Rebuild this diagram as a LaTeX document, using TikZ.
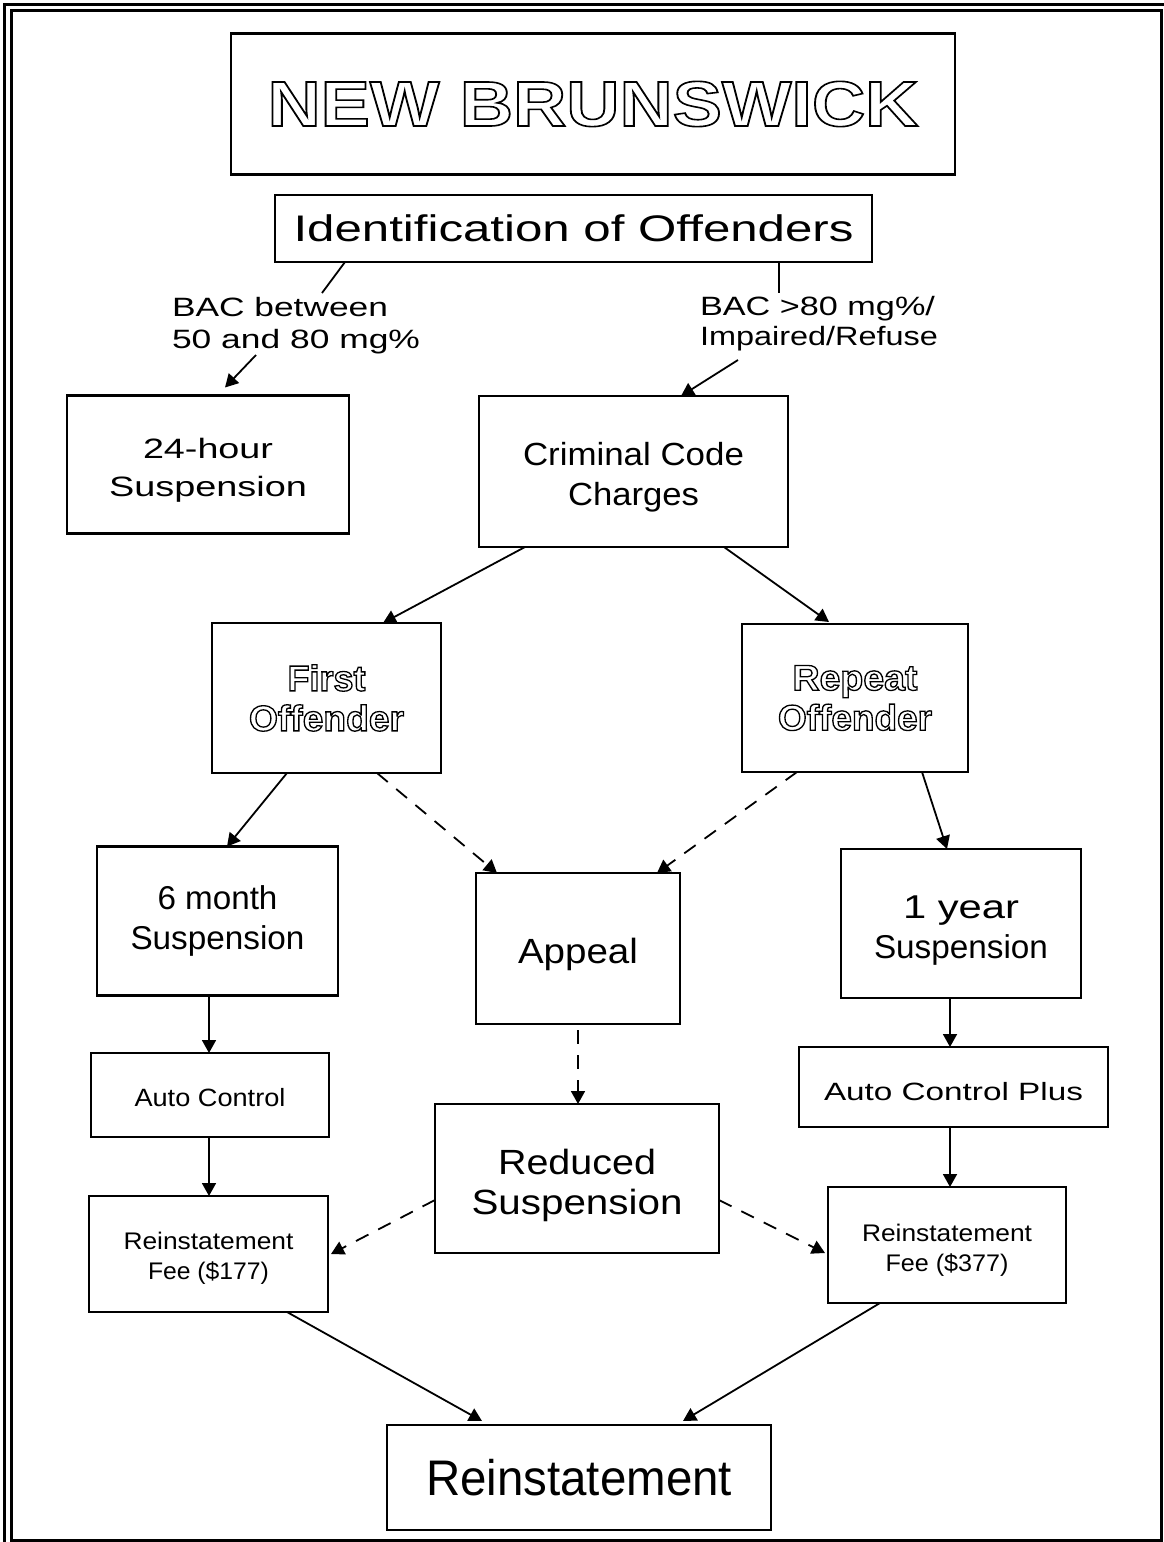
\documentclass[tikz,border=0pt]{standalone}
\usepackage{fontspec}
\setmainfont{Liberation Sans}
\usepackage{graphicx}
\usetikzlibrary{arrows.meta}
% set one line of text to a given width (in pt), keeping its height
\newsavebox\wlinebox
\newcommand\wline[2]{\sbox\wlinebox{#2}%
  \pgfmathsetmacro\wlineratio{#1/\wd\wlinebox}%
  \scalebox{\wlineratio}[1]{\usebox\wlinebox}}
% hollow lettering: glyph outlines stroked, not filled
\newcommand\hollow[2]{\special{pdf:literal direct 1 Tr #1 w}#2\special{pdf:literal direct 0 Tr}}
\newcommand\fsz[2]{\fontsize{#1}{#2}\selectfont}

\begin{document}
\begin{tikzpicture}[x=1pt,y=-1pt,
  box/.style={draw, line width=2.2pt, inner sep=0pt, outer sep=0pt, align=center},
  % place the last baseline #1 pt below the box centre
  base/.style={text depth=0pt, text height=2*#1 pt},
  lbl/.style={inner sep=0pt, outer sep=0pt, align=left},
  link/.style={line width=1.8pt, -{Triangle[length=13pt,width=14pt]}},
  plain/.style={line width=1.8pt},
  dlink/.style={link, dash pattern=on 14pt off 11pt},
]
\useasboundingbox (0,0) rectangle (1163,1542);

% double frame
\draw[line width=3pt] (4,1570) -- (4,4) -- (1190,4);
\draw[line width=3pt] (11,10) rectangle (1161,1540);

% boxes
\node[box, line width=2.6pt, minimum width=724pt, minimum height=141pt,
      font=\fsz{64}{70}\bfseries] (title) at (593,104)
  {\wline{651}{\hollow{1.6}{NEW BRUNSWICK}}};
\node[box, minimum width=597pt, minimum height=67pt, font=\fsz{37}{40}] (ident) at (573.5,228.5)
  {\wline{560}{Identification of Offenders}};

\node[lbl, font=\fsz{26.5}{32}] (lab1) at (296,326)
  {\wline{216}{BAC between}\\\wline{248}{50 and 80 mg\%}};
\node[lbl, font=\fsz{26.5}{30}] (lab2) at (819,324)
  {\wline{235}{BAC >80 mg\%/}\\\wline{238}{Impaired/Refuse}};

\node[box, base=31.5, minimum width=282pt, minimum height=138pt, font=\fsz{28}{38}] (h24) at (208,464.5)
  {\wline{130}{24-hour}\\\wline{198}{Suspension}};
\node[box, base=34, minimum width=309pt, minimum height=151pt, font=\fsz{32}{40}] (ccc) at (633.5,471.5)
  {\wline{221}{Criminal Code}\\\wline{131}{Charges}};

\node[box, minimum width=229pt, minimum height=150pt, font=\fsz{36}{40}\bfseries] (first) at (326.5,698)
  {\wline{78}{\hollow{1.3}{First}}\\\wline{155}{\hollow{1.3}{Offender}}};
\node[box, minimum width=226pt, minimum height=148pt, font=\fsz{36}{40}\bfseries] (repeat) at (855,698)
  {\wline{125}{\hollow{1.3}{Repeat}}\\\wline{154}{\hollow{1.3}{Offender}}};

\node[box, minimum width=241pt, minimum height=149pt, font=\fsz{33}{40}] (six) at (217.5,921)
  {\wline{120}{6 month}\\\wline{174}{Suspension}};
\node[box, base=14.5, minimum width=204pt, minimum height=151pt, font=\fsz{35}{40}] (appeal) at (578,948.5)
  {\wline{120}{Appeal}};
\node[box, base=34.5, minimum width=240pt, minimum height=149pt, font=\fsz{33}{40}] (year) at (961,923.5)
  {\wline{116}{1 year}\\\wline{174}{Suspension}};

\node[box, base=11, minimum width=238pt, minimum height=84pt, font=\fsz{25}{30}] (auto) at (210,1095)
  {\wline{151}{Auto Control}};
\node[box, base=13, minimum width=309pt, minimum height=80pt, font=\fsz{25}{30}] (plus) at (953.5,1087)
  {\wline{259}{Auto Control Plus}};
\node[box, base=35.5, minimum width=284pt, minimum height=149pt, font=\fsz{35}{40}] (reduced) at (577,1178.5)
  {\wline{158}{Reduced}\\\wline{211}{Suspension}};

\node[box, base=25, minimum width=239pt, minimum height=116pt, font=\fsz{24}{30}] (fee1) at (208.5,1254)
  {\wline{170}{Reinstatement}\\\wline{121}{Fee (\$177)}};
\node[box, base=26, minimum width=238pt, minimum height=116pt, font=\fsz{24}{30}] (fee2) at (947,1245)
  {\wline{170}{Reinstatement}\\\wline{123}{Fee (\$377)}};

\node[box, minimum width=384pt, minimum height=105pt, font=\fsz{50}{56}] (rein) at (579,1477.5)
  {\wline{306}{Reinstatement}};

% connectors
\draw[plain] ([xshift=-228.5pt]ident.south) -- ([shift={(26,-33)}]lab1.center);
\draw[link]  ([shift={(-40,29)}]lab1.center) -- ([xshift=17pt,yshift=8pt]h24.north);
\draw[plain] ([xshift=205.5pt]ident.south) -- ([shift={(-40,-31)}]lab2.center);
\draw[link]  ([shift={(-81,36)}]lab2.center) -- ([xshift=47.5pt]ccc.north);

\draw[link]  ([xshift=-108.5pt]ccc.south) -- ([xshift=56.5pt]first.north);
\draw[link]  ([xshift=90.5pt]ccc.south) -- ([xshift=-26pt,yshift=2pt]repeat.north);

\draw[link]  ([xshift=-39.5pt]first.south) -- ([xshift=9.5pt]six.north);
\draw[dlink] ([xshift=50.5pt]first.south) -- ([xshift=-81pt]appeal.north);
\draw[dlink] ([xshift=-58pt]repeat.south) -- ([xshift=79pt]appeal.north);
\draw[link]  ([xshift=67pt]repeat.south) -- ([xshift=-14pt]year.north);

\draw[link]  ([xshift=-8.5pt]six.south) -- ([xshift=-1pt]auto.north);
\draw[dlink] ([yshift=-6pt]appeal.south) -- ([xshift=1pt]reduced.north);
\draw[link]  ([xshift=-11pt]year.south) -- ([xshift=-3.5pt]plus.north);

\draw[link]  ([xshift=-1pt]auto.south) -- ([xshift=0.5pt]fee1.north);
\draw[link]  ([xshift=-3.5pt]plus.south) -- ([xshift=3pt]fee2.north);

\draw[dlink] ([yshift=-21.5pt]reduced.west) -- ([xshift=3pt]fee1.east);
\draw[dlink] ([yshift=-21.5pt]reduced.east) -- ([xshift=-3pt,yshift=-8pt]fee2.west);

\draw[link]  ([xshift=78.5pt]fee1.south) -- ([xshift=-97pt,yshift=4pt]rein.north);
\draw[link]  ([xshift=-67pt]fee2.south) -- ([xshift=104pt,yshift=4pt]rein.north);
\end{tikzpicture}
\end{document}
